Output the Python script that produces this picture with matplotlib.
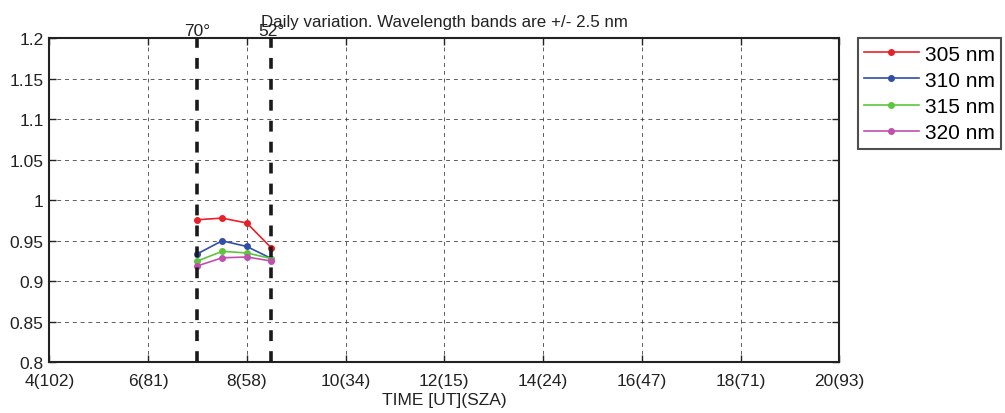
import matplotlib
matplotlib.use('Agg')
import matplotlib.pyplot as plt
import matplotlib.transforms as mtransforms
import numpy as np

plt.rcParams['font.family'] = ['Liberation Sans', 'DejaVu Sans']

# data
hours = [7.0, 7.5, 8.0, 8.5]
series_names = ['305 nm', '310 nm', '315 nm', '320 nm']
v305 = [0.976, 0.978, 0.972, 0.941]
v310 = [0.934, 0.950, 0.943, 0.928]
v315 = [0.925, 0.937, 0.935, 0.928]
v320 = [0.919, 0.929, 0.930, 0.925]
colors = ['#e8202a', '#2f4fa8', '#5cc63c', '#c04fb0']

sza_lines = [7.0, 8.5]
sza_labels = ['70°', '52°']

xticks = [4, 6, 8, 10, 12, 14, 16, 18, 20]
xticklabels = ['4(102)', '6(81)', '8(58)', '10(34)', '12(15)', '14(24)',
               '16(47)', '18(71)', '20(93)']
yticks = [0.8, 0.85, 0.9, 0.95, 1.0, 1.05, 1.1, 1.15, 1.2]
yticklabels = ['0.8', '0.85', '0.9', '0.95', '1', '1.05', '1.1', '1.15', '1.2']

fig = plt.figure(figsize=(10.05, 4.14), dpi=100)
ax = fig.add_axes([49.3 / 1005, 1 - 363.3 / 414, 790 / 1005, 324 / 414])

for vals, name, c in zip([v305, v310, v315, v320], series_names, colors):
    ax.plot(hours, vals, '-o', color=c, lw=1.2, ms=4, label=name, zorder=3)

trans = mtransforms.offset_copy(ax.transData, fig=fig, x=0, y=3.5, units='dots')
for x, lab in zip(sza_lines, sza_labels):
    ax.axvline(x, color='#1a1a1a', lw=2.6, dashes=(3.0, 2.8), zorder=4)
    ax.text(x, 1.2, lab, transform=trans, ha='center', va='baseline',
            fontsize=12.5, color='#222222')

ax.set_xlim(4, 20)
ax.set_ylim(0.8, 1.2)
ax.set_xticks(xticks)
ax.set_xticklabels(xticklabels)
ax.set_yticks(yticks)
ax.set_yticklabels(yticklabels)
ax.tick_params(direction='in', length=5, width=1, top=True, right=True,
               labelsize=12.5, colors='#222222')
ax.tick_params(axis='x', pad=7.5)
ax.tick_params(axis='y', pad=4)
ax.grid(True, color='#333333', lw=0.7, dashes=(4, 4), alpha=0.8)
for s in ax.spines.values():
    s.set_linewidth(1.5)
    s.set_color('#222222')

ax.set_xlabel('TIME [UT](SZA)', fontsize=12.5, color='#222222', labelpad=3)
fig.text(0.5 * (49.3 + 839.3) / 1005, 1 - 26.7 / 414,
         'Daily variation. Wavelength bands are +/- 2.5 nm',
         ha='center', va='baseline', fontsize=12.2, color='#222222')

leg = fig.legend(loc='upper left', bbox_to_anchor=(857.7 / 1005, 1 - 39 / 414),
                 fontsize=15, frameon=True, fancybox=False, edgecolor='#222222',
                 borderaxespad=0, handlelength=2.6, labelspacing=0.34,
                 handletextpad=0.3, borderpad=0.32)
leg.get_frame().set_linewidth(1.5)
for h in leg.legend_handles:
    h.set_markersize(4)

fig.savefig('out.png', dpi=100)
